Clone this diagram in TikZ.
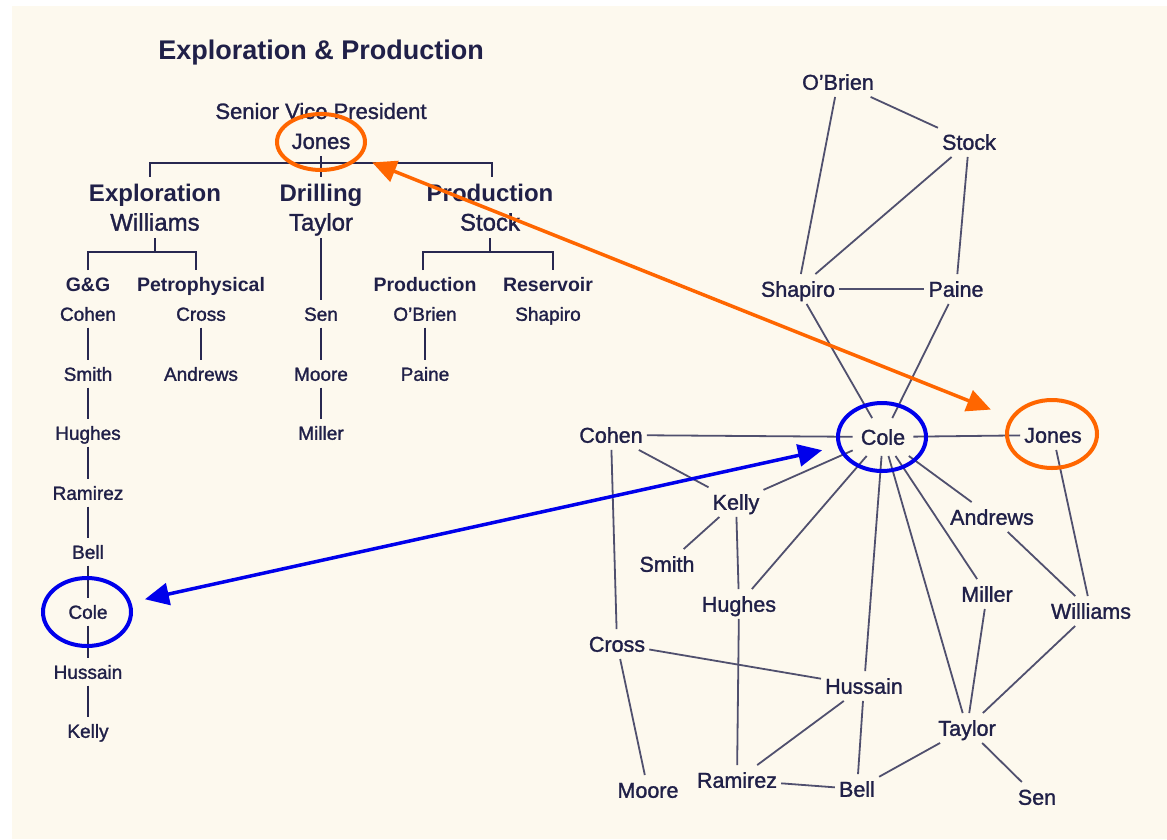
\documentclass[tikz,border=0pt]{standalone}
\usepackage{fontspec}
\setmainfont{Liberation Sans}[FakeBold=1.4]
\newfontfamily\boldfam{Liberation Sans Bold}
\usetikzlibrary{shapes.geometric,arrows.meta}
\definecolor{cream}{RGB}{253,249,238}
\definecolor{txt}{RGB}{32,32,72}
\definecolor{edg}{RGB}{80,80,110}
\definecolor{orgln}{RGB}{40,40,80}
\definecolor{orng}{RGB}{255,102,0}
\definecolor{blu}{RGB}{0,0,235}
\begin{document}
\begin{tikzpicture}[x=1pt,y=-1pt,
 lbl/.style={text=txt, inner sep=4pt},
 small/.style={lbl, font=\fontsize{19}{22}\selectfont, text height=16.3pt, text depth=2.7pt},
 smallb/.style={lbl, font=\fontsize{19.5}{22}\boldfam, text height=16.8pt, text depth=2.7pt},
 mid/.style={lbl, font=\fontsize{24}{27}\selectfont, text height=20.6pt, text depth=3.4pt},
 midb/.style={lbl, font=\fontsize{24}{27}\boldfam, text height=20.6pt, text depth=3.4pt},
 svpst/.style={lbl, font=\fontsize{22}{26}\selectfont, text height=18.9pt, text depth=3.1pt},
 gn/.style={lbl, font=\fontsize{21.5}{24}\selectfont, text height=18.5pt, text depth=3pt},
 orgline/.style={draw=orgln, line width=1.8pt},
 gedge/.style={draw=edg, line width=1.8pt},
 ring/.style={ellipse, draw, line width=4pt, inner sep=0pt, outer sep=0pt},
 link/.style={line width=3.5pt, {Triangle[length=24pt,width=22pt]}-{Triangle[length=24pt,width=22pt]}},
]
\fill[white] (0,0) rectangle (1167,839);
\fill[cream] (12,6) rectangle (1167,839);
\useasboundingbox (0,0) rectangle (1167,839);

% ---------- org chart ----------
\node[lbl, font=\fontsize{27}{30}\boldfam, text height=23.2pt, text depth=3.8pt] (title) at (321,50) {Exploration \& Production};
\node[svpst] (svp) at (321,111) {Senior Vice President};
\node[svpst] (oJones) at (321,141) {Jones};

\node[midb] (oExpl) at (155,193) {Exploration};
\node[mid] (oWilliams) at (155,222) {Williams};
\node[midb] (oDrill) at (321,193) {Drilling};
\node[mid] (oTaylor) at (321,222) {Taylor};
\node[midb] (oProd) at (490,193) {Production};
\node[mid] (oStock) at (490,222) {Stock};

\node[smallb] (oGG) at (88,284) {G\&G};
\node[smallb] (oPetro) at (201,284) {Petrophysical};
\node[smallb] (oProdSub) at (425,284) {Production};
\node[smallb] (oRes) at (548,284) {Reservoir};

\node[small] (oCohen) at (88,314) {Cohen};
\node[small] (oSmith) at (88,374) {Smith};
\node[small] (oHughes) at (88,433) {Hughes};
\node[small] (oRamirez) at (88,493) {Ramirez};
\node[small] (oBell) at (88,552) {Bell};
\node[small] (oCole) at (88,612) {Cole};
\node[small] (oHussain) at (88,672) {Hussain};
\node[small] (oKelly) at (88,731) {Kelly};
\node[small] (oCross) at (201,314) {Cross};
\node[small] (oAndrews) at (201,374) {Andrews};
\node[small] (oSen) at (321,314) {Sen};
\node[small] (oMoore) at (321,374) {Moore};
\node[small] (oMiller) at (321,433) {Miller};
\node[small] (oOBrien) at (425,314) {O'Brien};
\node[small] (oShapiro) at (548,314) {Shapiro};
\node[small] (oPaine) at (425,374) {Paine};

\draw[orgline] (oJones.south) -- (oDrill.north);
\draw[orgline] (oExpl.north) ++(-5,0) -- ++(0,-14) -- ++(342,0) -- ++(0,14);
\draw[orgline] (oWilliams.south) -- ++(0,14);
\draw[orgline] (oGG.north) -- ++(0,-18) -| ([xshift=-5pt]oPetro.north);
\draw[orgline] (oStock.south) -- ++(0,14);
\draw[orgline] ([xshift=-2pt]oProdSub.north) -- ++(0,-18) -| ([xshift=5pt]oRes.north);
\draw[orgline] (oTaylor.south) -- (oSen.north);
\foreach \a/\b in {oCohen/oSmith,oSmith/oHughes,oHughes/oRamirez,oRamirez/oBell,oBell/oCole,oCole/oHussain,oHussain/oKelly,oCross/oAndrews,oSen/oMoore,oMoore/oMiller,oOBrien/oPaine}
  \draw[orgline] (\a) -- (\b);

% ---------- network ----------
\node[gn] (gOBrien) at (838,82) {O'Brien};
\node[gn] (gStock) at (969,142) {Stock};
\node[gn] (gShapiro) at (798,289) {Shapiro};
\node[gn] (gPaine) at (956,289) {Paine};
\node[gn, inner sep=8pt] (gCole) at (883,437) {Cole};
\node[gn] (gJones) at (1053,435) {Jones};
\node[gn] (gCohen) at (611,435) {Cohen};
\node[gn] (gKelly) at (736,502) {Kelly};
\node[gn] (gSmith) at (667,564) {Smith};
\node[gn] (gHughes) at (739,604) {Hughes};
\node[gn] (gAndrews) at (992,517) {Andrews};
\node[gn] (gMiller) at (987,594) {Miller};
\node[gn] (gWilliams) at (1091,611) {Williams};
\node[gn] (gCross) at (617,644) {Cross};
\node[gn] (gHussain) at (864,686) {Hussain};
\node[gn] (gTaylor) at (967,728) {Taylor};
\node[gn] (gMoore) at (648,790) {Moore};
\node[gn] (gRamirez) at (737,780) {Ramirez};
\node[gn] (gBell) at (857,789) {Bell};
\node[gn] (gSen) at (1037,797) {Sen};

\foreach \a/\b in {gOBrien/gStock,gOBrien/gShapiro,gStock/gShapiro,gStock/gPaine,gShapiro/gPaine,gShapiro/gCole,gPaine/gCole,gCohen/gCole,gCole/gJones,gCohen/gKelly,gCohen/gCross,gKelly/gCole,gKelly/gSmith,gKelly/gHughes,gHughes/gRamirez,gHughes/gCole,gCole/gHussain,gCole/gTaylor,gCole/gMiller,gCole/gAndrews,gAndrews/gWilliams,gJones/gWilliams,gMiller/gTaylor,gWilliams/gTaylor,gTaylor/gBell,gTaylor/gSen,gCross/gHussain,gCross/gMoore,gHussain/gRamirez,gHussain/gBell,gRamirez/gBell}
  \draw[gedge] (\a) -- (\b);

% ---------- highlight rings and links ----------
\node[ring, draw=orng, minimum width=88pt, minimum height=56pt] (rJonesL) at (321,142) {};
\node[ring, draw=orng, minimum width=90pt, minimum height=68pt] (rJonesR) at (1052,434) {};
\node[ring, draw=blu, minimum width=88pt, minimum height=68pt] (rColeL) at (87,612) {};
\node[ring, draw=blu, minimum width=88pt, minimum height=68pt] (rColeR) at (882,437) {};

\draw[link, orng, shorten <=15pt, shorten >=23pt] (rJonesL) -- (rJonesR);
\draw[link, blu, shorten <=16pt, shorten >=18pt] (rColeL) -- (rColeR);
\end{tikzpicture}
\end{document}
